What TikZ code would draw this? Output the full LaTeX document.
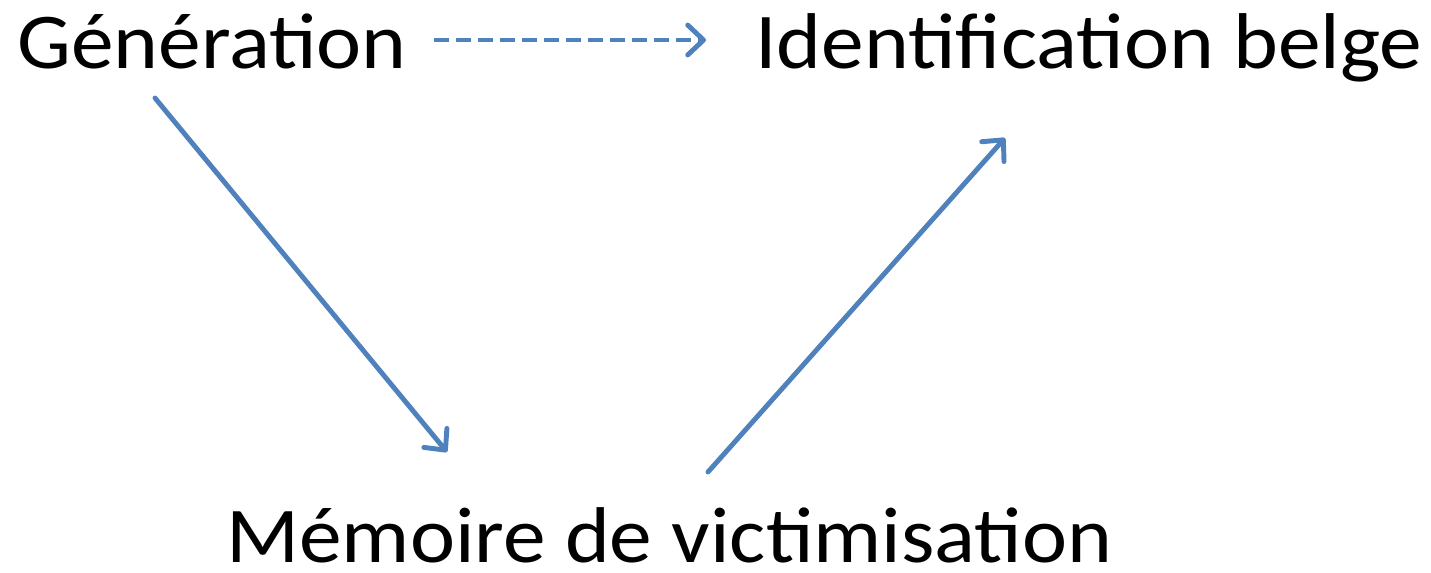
\documentclass[tikz,border=0pt]{standalone}
\usepackage{fontspec}
\setmainfont{Carlito}
\usepackage{xcolor}
\usepackage{tikz}
\usetikzlibrary{positioning, calc, arrows.meta}
\definecolor{linkblue}{RGB}{79,129,189}
\newcommand{\widetext}[1]{\scalebox{1.08}[1]{#1}}
\tikzset{concept/.style={inner sep=0pt, font=\fontsize{45}{54}\selectfont}}
\tikzset{link/.style={draw=linkblue, line width=2.8pt, line cap=round,
    -{Straight Barb[length=9pt, width=17pt, round]}}}
\tikzset{weaklink/.append style={link, dash pattern=on 8.5pt off 4pt, line cap=butt}}

\begin{document}
\begin{tikzpicture}[x=0.02cm, y=-0.02cm]
      \useasboundingbox (0,0) rectangle (1431,572);

      \node[concept, anchor=base west] (gen) at (17,68) {\widetext{Génération}};
      \node[concept, anchor=base west] (ident) at (755,68) {\widetext{Identification belge}};
      \node[concept, anchor=base west] (mem) at (226,562) {\widetext{Mémoire de victimisation}};

      \draw[weaklink] ($(gen.base east)+(27,-28)$) -- ($(ident.base west)+(-49,-28)$);
      \draw[link] ($(gen.base west)+(138,30)$) -- ($(mem.base west)+(221,-110)$);
      \draw[link] ($(mem.base west)+(482,-90)$) -- ($(ident.base west)+(250,70)$);

    \end{tikzpicture}
\end{document}
